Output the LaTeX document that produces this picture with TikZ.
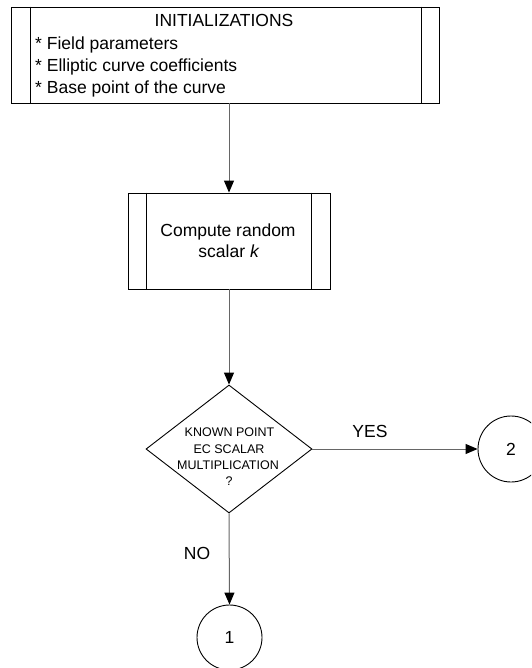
\documentclass[tikz,border=0pt]{standalone}
\usepackage{fontspec}
\setmainfont{Liberation Sans}
\usetikzlibrary{shapes.geometric,arrows.meta}
\begin{document}
\begin{tikzpicture}[x=1pt,y=-1pt,
  outline/.style={draw=black,line width=0.9pt,inner sep=0pt},
  bigtxt/.style={font=\fontsize{17.5}{21}\selectfont,inner sep=0pt},
  smalltxt/.style={font=\fontsize{12.5}{16.3}\selectfont,inner sep=0pt},
  flow/.style={draw=black!60,line width=1pt,-{Triangle[length=12pt,width=10pt,color=black]}}]
\clip (0,0) rectangle (531,668);
\fill[white] (0,0) rectangle (531,668);
% initializations box
\node[outline,minimum width=428pt,minimum height=96pt] (init) at (225,55) {};
\draw[outline] ([xshift=20pt]init.north west) -- ([xshift=20pt]init.south west);
\draw[outline] ([xshift=-18pt]init.north east) -- ([xshift=-18pt]init.south east);
\node[bigtxt,anchor=base] (title) at (224,27) {INITIALIZATIONS};
\node[bigtxt,anchor=base west] (l1) at (35,49.3) {* Field parameters};
\node[bigtxt,anchor=base west] (l2) at (35,71.5) {* Elliptic curve coefficients};
\node[bigtxt,anchor=base west] (l3) at (35,93.5) {* Base point of the curve};
% compute box
\node[outline,minimum width=202pt,minimum height=96pt] (comp) at (229,241) {};
\draw[outline] ([xshift=19pt]comp.north west) -- ([xshift=19pt]comp.south west);
\draw[outline] ([xshift=-19pt]comp.north east) -- ([xshift=-19pt]comp.south east);
\node[bigtxt,anchor=base] (c1t) at (228,236.7) {Compute random};
\node[bigtxt,anchor=base] (c2t) at (229,257.3) {scalar \textit{k}};
% decision
\node[outline,diamond,minimum width=166pt,minimum height=128pt] (dec) at (229,449) {};
\node[smalltxt,anchor=base] (d1) at (229.5,436.7) {KNOWN POINT};
\node[smalltxt,anchor=base] (d2) at (229,453) {EC SCALAR};
\node[smalltxt,anchor=base] (d3) at (228,469.3) {MULTIPLICATION};
\node[smalltxt,anchor=base] (d4) at (229,485.6) {?};
% connectors
\node[outline,bigtxt,circle,draw,line width=0.9pt,minimum size=66pt] (cB) at (511,449) {2};
\node[outline,bigtxt,circle,draw,line width=0.9pt,minimum size=65pt] (cA) at (229.5,637.5) {1};
% arrows
\draw[flow] (comp.north |- init.south) -- (comp.north);
\draw[flow] (comp.south) -- (dec.north);
\draw[flow] (dec.east) -- (cB.west);
\draw[flow] (dec.south) -- (cA.north);
\node[bigtxt] (yes) at (370,431.7) {YES};
\node[bigtxt] (no) at (197,553) {NO};
\end{tikzpicture}
\end{document}
